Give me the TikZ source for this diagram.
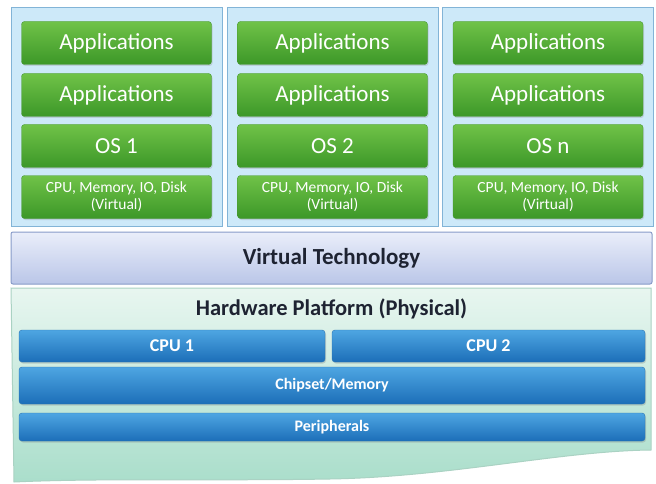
\documentclass[tikz,border=0pt]{standalone}
\usepackage{fontspec}
\setmainfont{Carlito}
\usepackage{tikz}
\usetikzlibrary{shadows}
\definecolor{grtop}{RGB}{112,194,72}
\definecolor{grbot}{RGB}{60,152,40}
\definecolor{grline}{RGB}{70,150,50}
\definecolor{bltop}{RGB}{78,166,226}
\definecolor{blbot}{RGB}{28,110,184}
\definecolor{blline}{RGB}{40,115,180}
\definecolor{vmfill}{RGB}{205,233,249}
\definecolor{vmline}{RGB}{130,180,215}
\definecolor{vttop}{RGB}{234,238,250}
\definecolor{vtbot}{RGB}{186,198,232}
\definecolor{vtline}{RGB}{135,155,200}
\definecolor{hwtop}{RGB}{232,246,240}
\definecolor{hwbot}{RGB}{170,222,203}
\definecolor{hwline}{RGB}{170,210,195}
\definecolor{ink}{RGB}{30,35,50}

\begin{document}
\begin{tikzpicture}[x=1pt,y=-1pt,
  vm/.style={draw=vmline,fill=vmfill,line width=1pt,minimum width=211pt,
             minimum height=218pt,inner sep=0pt},
  layer/.style={draw=grline,line width=0.4pt,rounded corners=3pt,
                top color=grtop,bottom color=grbot,text=white,
                minimum width=190pt,minimum height=43pt,inner sep=0pt,
                font=\fontsize{23}{26}\selectfont,
                drop shadow={opacity=0.25,shadow xshift=1pt,shadow yshift=-1.5pt}},
  hwbar/.style={draw=blline,line width=0.4pt,rounded corners=3pt,
                top color=bltop,bottom color=blbot,text=white,
                minimum height=32pt,inner sep=0pt,
                font=\bfseries\fontsize{16}{18}\selectfont,
                drop shadow={opacity=0.3,shadow xshift=1pt,shadow yshift=-1.5pt}}]
\useasboundingbox (0,0) rectangle (656,484);

% virtual machines
\foreach \i/\cx/\os in {1/116.5/1, 2/332.5/2, 3/548/n}{
  \node[vm] (vm\i) at (\cx,117) {};
  \node[layer] (appa\i) at (\cx,43) {Applications};
  \node[layer] (appb\i) at (\cx,95) {Applications};
  \node[layer] (os\i) at (\cx,146) {OS \os};
  \node[layer,align=center,font=\fontsize{15.5}{17}\selectfont]
    (vhw\i) at (\cx,197) {CPU, Memory, IO, Disk\\(Virtual)};
}

% virtualisation layer
\node[draw=vtline,line width=1pt,rounded corners=2pt,top color=vttop,
      bottom color=vtbot,minimum width=641pt,minimum height=52pt,inner sep=0pt,
      text=ink,font=\bfseries\fontsize{23}{26}\selectfont]
  (vt) at (331.5,258) {Virtual Technology};

% physical platform
\path[draw=hwline,line width=1pt,top color=hwtop,bottom color=hwbot]
  (11,288) -- (651,288) -- (651,450)
  .. controls (560,451) and (450,477) .. (330,479)
  .. controls (220,481) and (100,478) .. (14,482) -- cycle;
\node[text=ink,font=\bfseries\fontsize{22.5}{26}\selectfont]
  (hw) at (331.5,309) {Hardware Platform (Physical)};
\node[hwbar,minimum width=306pt,font=\bfseries\fontsize{18}{20}\selectfont]
  (cpua) at (172,346) {CPU 1};
\node[hwbar,minimum width=313pt,font=\bfseries\fontsize{18}{20}\selectfont]
  (cpub) at (488.5,346) {CPU 2};
\node[hwbar,minimum width=626pt,minimum height=37pt] (chip) at (332,385.5) {Chipset/Memory};
\node[hwbar,minimum width=626pt,minimum height=28pt] (peri) at (332,427) {Peripherals};
\end{tikzpicture}
\end{document}
